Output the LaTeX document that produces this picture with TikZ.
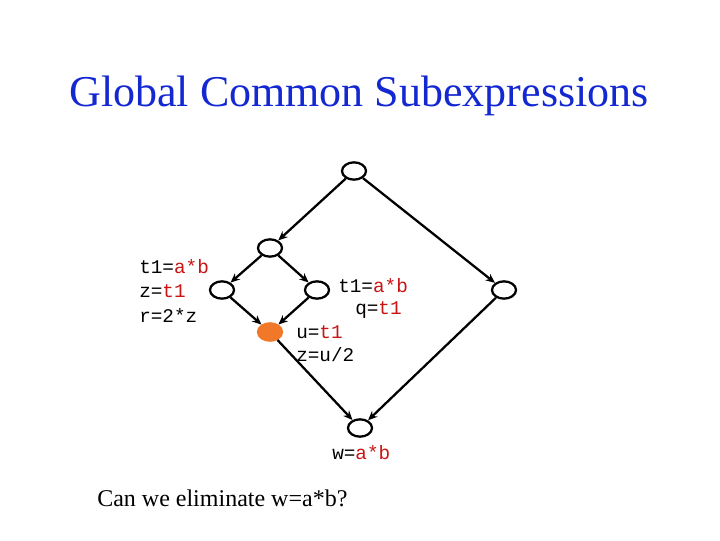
\documentclass[tikz,border=0pt]{standalone}
\usepackage{fontspec}
\usetikzlibrary{shapes.geometric,arrows.meta}
\setmainfont{Liberation Serif}
\setmonofont{Liberation Mono}
\definecolor{tblue}{RGB}{20,40,210}
\definecolor{cred}{RGB}{200,20,20}
\definecolor{orng}{RGB}{240,120,40}
\begin{document}
\begin{tikzpicture}[x=0.75pt,y=-0.75pt,
  blk/.style={draw,line width=1.7pt,ellipse,minimum width=18pt,minimum height=13pt,inner sep=0pt},
  edge/.style={line width=1.7pt,-{Stealth[length=7pt,width=6pt]}},
  code/.style={font=\ttfamily\fontsize{14.5}{17}\selectfont,anchor=west,inner sep=0pt}]
\useasboundingbox (0,0) rectangle (720,540);
\node[font=\fontsize{33}{40}\selectfont,text=tblue] (title) at (359,96) {Global Common Subexpressions};
\node[blk] (top) at (354,171) {};
\node[blk] (b2) at (270,248) {};
\node[blk] (l) at (222,290) {};
\node[blk] (m) at (317,290) {};
\node[blk,fill=orng,draw=orng] (o) at (270,332) {};
\node[blk] (r) at (504,290) {};
\node[blk] (bot) at (360,428) {};
\draw[edge] (top) -- (b2);
\draw[edge] (top) -- (r);
\draw[edge] (b2) -- (l);
\draw[edge] (b2) -- (m);
\draw[edge] (l) -- (o);
\draw[edge] (m) -- (o);
\draw[edge] (o) -- (bot);
\draw[edge] (r) -- (bot);
\node[code] (t1) at (139,267) {t1=\textcolor{cred}{a*b}};
\node[code] (t2) at (139,291) {z=\textcolor{cred}{t1}};
\node[code] (t3) at (139,315) {r=2*z};
\node[code] (m1) at (338,286) {t1=\textcolor{cred}{a*b}};
\node[code] (m2) at (355,310) {q=\textcolor{cred}{t1}};
\node[code] (o1) at (296,332) {u=\textcolor{cred}{t1}};
\node[code] (o2) at (296,355) {z=u/2};
\node[code] (w) at (332,453) {w=\textcolor{cred}{a*b}};
\node[font=\fontsize{18}{22}\selectfont,anchor=west,inner sep=0pt] (q) at (97,498) {Can we eliminate w=a*b?};
\end{tikzpicture}
\end{document}
